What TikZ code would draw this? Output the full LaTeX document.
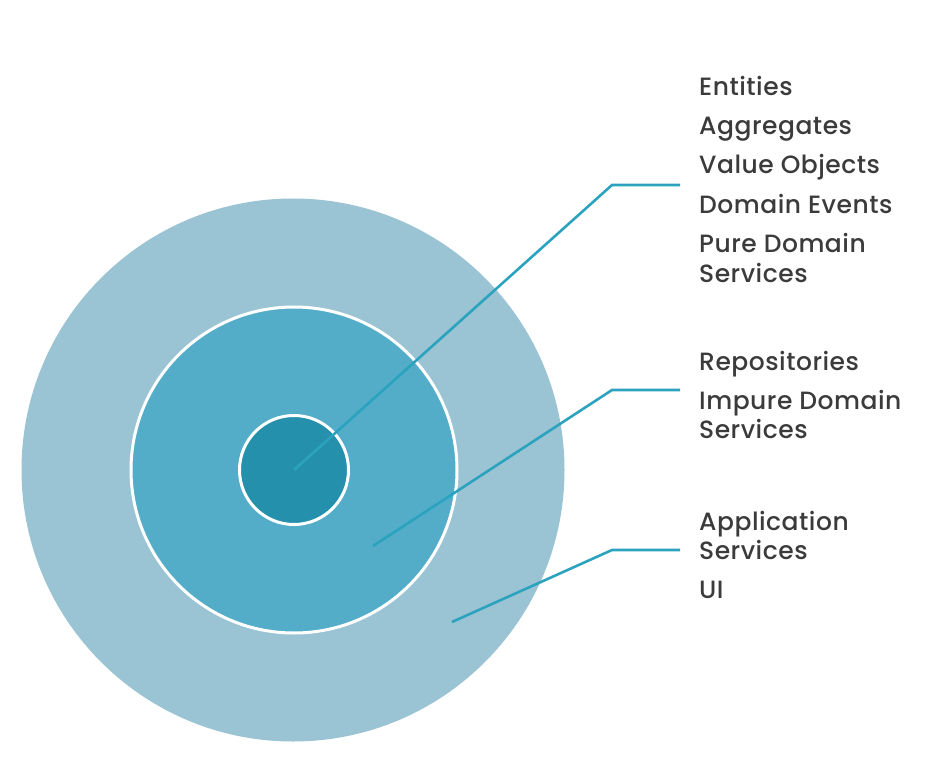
\documentclass[tikz,border=0pt]{standalone}
\usepackage{fontspec}
\setmainfont{Poppins Medium}[LetterSpace=2]
\definecolor{outerc}{HTML}{9AC3D3}
\definecolor{midc}{HTML}{53ADC9}
\definecolor{innerc}{HTML}{2490AB}
\definecolor{linec}{HTML}{2BA3BF}
\definecolor{txtc}{HTML}{3B3B3B}
\begin{document}
\begin{tikzpicture}[x=1pt,y=-1pt,
  ring/.style={circle,inner sep=0pt,outer sep=0pt},
  lbl/.style={anchor=base west,inner sep=0pt,text=txtc,font=\fontsize{25}{28}\selectfont},
  leader/.style={draw=linec,line width=2.6pt,line join=miter}]
\useasboundingbox (0,0) rectangle (948,762);
\node[ring,fill=outerc,minimum size=543pt] (outer) at (293,470) {};
\node[ring,fill=midc,draw=white,line width=3pt,minimum size=326pt] (mid) at (294,470) {};
\node[ring,fill=innerc,draw=white,line width=3pt,minimum size=109pt] (inner) at (294,470) {};
\coordinate (s1) at (294,470);
\coordinate (k1) at (612,185);
\coordinate (e1) at (680,185);
\coordinate (s2) at (373,546);
\coordinate (k2) at (612,390);
\coordinate (e2) at (680,390);
\coordinate (s3) at (452,622);
\coordinate (k3) at (612,550);
\coordinate (e3) at (680,550);
\draw[leader] (s1) -- (k1) -- (e1);
\draw[leader] (s2) -- (k2) -- (e2);
\draw[leader] (s3) -- (k3) -- (e3);
\node[lbl] (t1) at (699,96) {Entities};
\node[lbl] (t2) at (699,135) {Aggregates};
\node[lbl] (t3) at (699,174) {Value Objects};
\node[lbl] (t4) at (699,214) {Domain Events};
\node[lbl] (t5) at (699,253) {Pure Domain};
\node[lbl] (t6) at (699,282) {Services};
\node[lbl] (t7) at (699,370) {Repositories};
\node[lbl] (t8) at (699,409) {Impure Domain};
\node[lbl] (t9) at (699,438) {Services};
\node[lbl] (t10) at (699,530) {Application};
\node[lbl] (t11) at (699,559) {Services};
\node[lbl] (t12) at (699,598) {UI};
\end{tikzpicture}
\end{document}
